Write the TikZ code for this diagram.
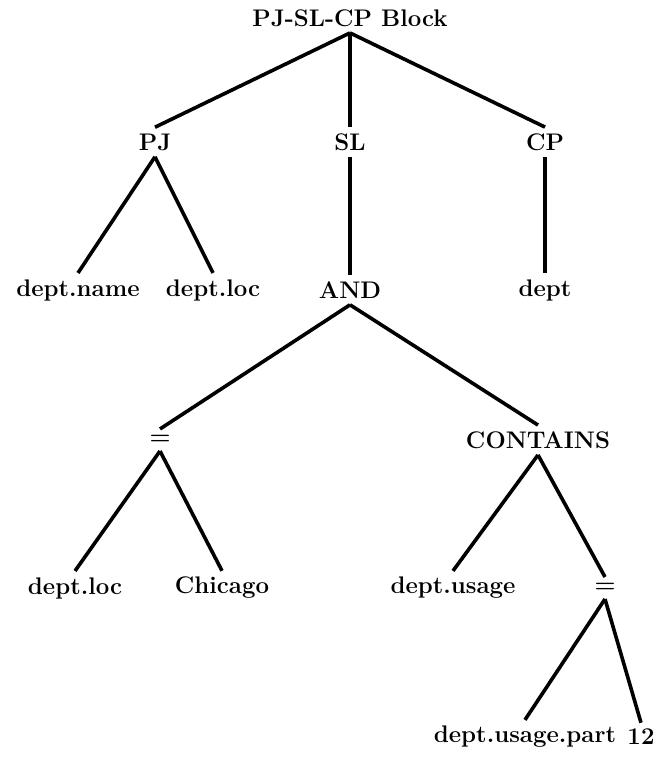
\documentclass[tikz,border=0pt]{standalone}
\begin{document}
\begin{tikzpicture}[x=0.5pt,y=-0.5pt,
  lbl/.style={font=\fontsize{12}{14}\selectfont\bfseries, inner sep=3pt},
  br/.style={line width=1.8pt}]
\useasboundingbox (0,0) rectangle (663,757);
\node[lbl] (root) at (350,18) {PJ-SL-CP Block};
\node[lbl] (pj) at (155,142) {PJ};
\node[lbl] (sl) at (350,142) {SL};
\node[lbl] (cp) at (545,142) {CP};
\node[lbl] (dname) at (78,290) {dept.name};
\node[lbl] (dloc1) at (213,290) {dept.loc};
\node[lbl] (and) at (350,290) {AND};
\node[lbl] (dept) at (545,290) {dept};
\node[lbl] (eq1) at (160,440) {=};
\node[lbl] (cont) at (538,440) {CONTAINS};
\node[lbl] (dloc2) at (75,588) {dept.loc};
\node[lbl] (chi) at (222,588) {Chicago};
\node[lbl] (dusage) at (453,588) {dept.usage};
\node[lbl] (eq2) at (605,588) {=};
\node[lbl] (dpart) at (525,737) {dept.usage.part};
\node[lbl] (twelve) at (641,737) {12};
\foreach \p/\c in {root/pj,root/sl,root/cp,pj/dname,pj/dloc1,sl/and,cp/dept,and/eq1,and/cont,eq1/dloc2,eq1/chi,cont/dusage,cont/eq2,eq2/dpart,eq2/twelve}
  \draw[br] (\p.south) -- (\c.north);
\end{tikzpicture}
\end{document}
